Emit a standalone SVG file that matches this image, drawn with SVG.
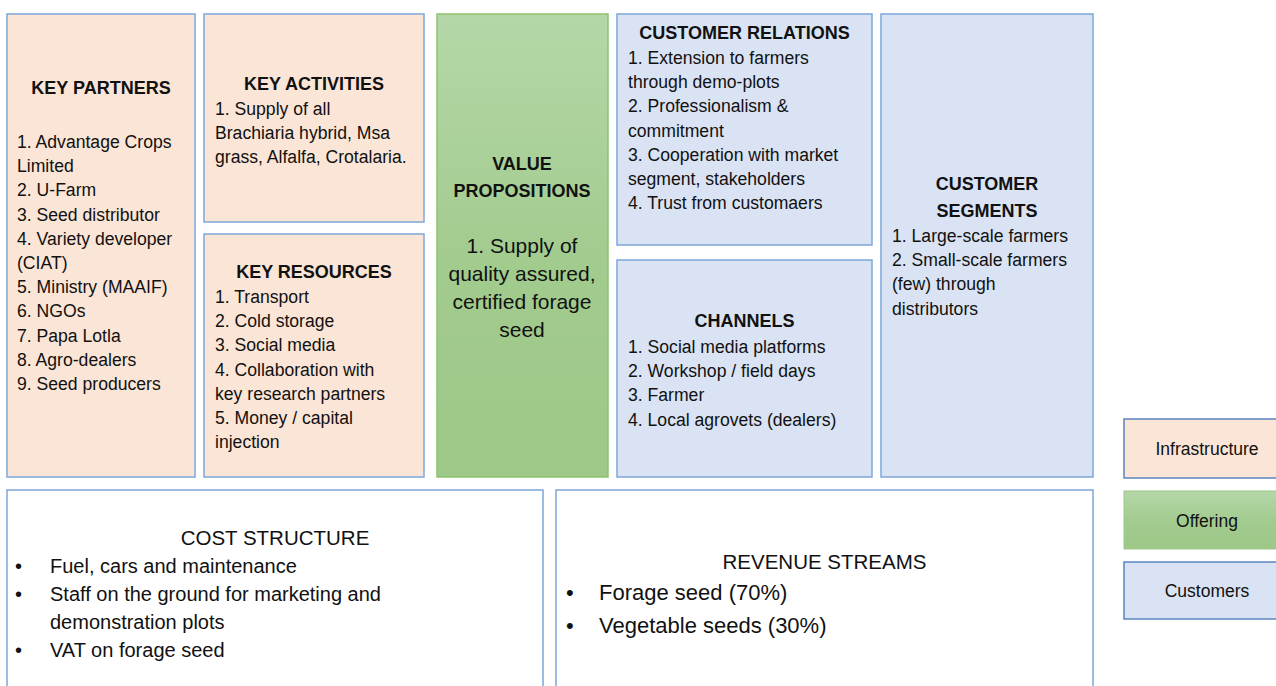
<svg xmlns="http://www.w3.org/2000/svg" width="1276" height="686" viewBox="0 0 1276 686">
<defs>
<linearGradient id="green" x1="0" y1="0" x2="0" y2="1">
<stop offset="0" stop-color="#B5D7A8"/>
<stop offset="0.55" stop-color="#A2CB8E"/>
<stop offset="1" stop-color="#9DC887"/>
</linearGradient>
<style>
text{font-family:"Liberation Sans",Arial,sans-serif;fill:#111;}
.infra{fill:#FBE5D6;stroke:#7EA7DA;stroke-width:1.5;}
.cust{fill:#DAE3F3;stroke:#7EA7DA;stroke-width:1.5;}
.offer{fill:url(#green);stroke:#8DC26E;stroke-width:1.5;}
.plain{fill:#FFFFFF;stroke:#7EA7DA;stroke-width:1.5;}
.h{font-size:18px;font-weight:bold;text-anchor:middle;}
.b{font-size:17.6px;}
.vp{font-size:21px;text-anchor:middle;}
.h2{font-size:20.5px;text-anchor:middle;}
.b2{font-size:20px;}
.b3{font-size:22px;}
.leg{font-size:17.5px;text-anchor:middle;}
</style>
</defs>
<rect width="1276" height="686" fill="#FFFFFF"/>

<g id="key-partners">
<rect class="infra" x="7" y="14" width="188" height="463"/>
<text class="h" x="101" y="94">KEY PARTNERS</text>
<text class="b" x="17" y="148">1. Advantage Crops</text>
<text class="b" x="17" y="172.2">Limited</text>
<text class="b" x="17" y="196.4">2. U-Farm</text>
<text class="b" x="17" y="220.6">3. Seed distributor</text>
<text class="b" x="17" y="244.8">4. Variety developer</text>
<text class="b" x="17" y="269">(CIAT)</text>
<text class="b" x="17" y="293.2">5. Ministry (MAAIF)</text>
<text class="b" x="17" y="317.4">6. NGOs</text>
<text class="b" x="17" y="341.6">7. Papa Lotla</text>
<text class="b" x="17" y="365.8">8. Agro-dealers</text>
<text class="b" x="17" y="390">9. Seed producers</text>
</g>

<g id="key-activities">
<rect class="infra" x="204" y="14" width="220" height="208"/>
<text class="h" x="314" y="90">KEY ACTIVITIES</text>
<text class="b" x="215" y="115">1. Supply of all</text>
<text class="b" x="215" y="139.2">Brachiaria hybrid, Msa</text>
<text class="b" x="215" y="163.4">grass, Alfalfa, Crotalaria.</text>
</g>

<g id="key-resources">
<rect class="infra" x="204" y="234" width="220" height="243"/>
<text class="h" x="314" y="278">KEY RESOURCES</text>
<text class="b" x="215" y="303">1. Transport</text>
<text class="b" x="215" y="327.2">2. Cold storage</text>
<text class="b" x="215" y="351.4">3. Social media</text>
<text class="b" x="215" y="375.6">4. Collaboration with</text>
<text class="b" x="215" y="399.8">key research partners</text>
<text class="b" x="215" y="424">5. Money / capital</text>
<text class="b" x="215" y="448.2">injection</text>
</g>

<g id="value-propositions">
<rect class="offer" x="437" y="14" width="171" height="463"/>
<text class="h" x="522" y="170">VALUE</text>
<text class="h" x="522" y="197">PROPOSITIONS</text>
<text class="vp" x="522" y="253">1. Supply of</text>
<text class="vp" x="522" y="281">quality assured,</text>
<text class="vp" x="522" y="309">certified forage</text>
<text class="vp" x="522" y="337">seed</text>
</g>

<g id="customer-relations">
<rect class="cust" x="617" y="14" width="255" height="231"/>
<text class="h" x="744.5" y="39">CUSTOMER RELATIONS</text>
<text class="b" x="628" y="64">1. Extension to farmers</text>
<text class="b" x="628" y="88.2">through demo-plots</text>
<text class="b" x="628" y="112.4">2. Professionalism &amp;</text>
<text class="b" x="628" y="136.6">commitment</text>
<text class="b" x="628" y="160.8">3. Cooperation with market</text>
<text class="b" x="628" y="185">segment, stakeholders</text>
<text class="b" x="628" y="209.2">4. Trust from customaers</text>
</g>

<g id="channels">
<rect class="cust" x="617" y="260" width="255" height="217"/>
<text class="h" x="744.5" y="327">CHANNELS</text>
<text class="b" x="628" y="353">1. Social media platforms</text>
<text class="b" x="628" y="377.2">2. Workshop / field days</text>
<text class="b" x="628" y="401.4">3. Farmer</text>
<text class="b" x="628" y="425.6">4. Local agrovets (dealers)</text>
</g>

<g id="customer-segments">
<rect class="cust" x="881" y="14" width="212" height="463"/>
<text class="h" x="987" y="190">CUSTOMER</text>
<text class="h" x="987" y="217">SEGMENTS</text>
<text class="b" x="892" y="242">1. Large-scale farmers</text>
<text class="b" x="892" y="266.2">2. Small-scale farmers</text>
<text class="b" x="892" y="290.4">(few) through</text>
<text class="b" x="892" y="314.6">distributors</text>
</g>

<g id="cost-structure">
<rect class="plain" x="7" y="490" width="536" height="210"/>
<text class="h2" x="275" y="545">COST STRUCTURE</text>
<text class="b2" x="15" y="573">•</text>
<text class="b2" x="50" y="573">Fuel, cars and maintenance</text>
<text class="b2" x="15" y="601">•</text>
<text class="b2" x="50" y="601">Staff on the ground for marketing and</text>
<text class="b2" x="50" y="629">demonstration plots</text>
<text class="b2" x="15" y="657">•</text>
<text class="b2" x="50" y="657">VAT on forage seed</text>
</g>

<g id="revenue-streams">
<rect class="plain" x="556" y="490" width="537" height="210"/>
<text class="h2" x="824.5" y="569">REVENUE STREAMS</text>
<text class="b3" x="566" y="600">•</text>
<text class="b3" x="599" y="600">Forage seed (70%)</text>
<text class="b3" x="566" y="633">•</text>
<text class="b3" x="599" y="633">Vegetable seeds (30%)</text>
</g>

<g id="legend-infrastructure">
<rect x="1124" y="419" width="160" height="59" fill="#FBE5D6" stroke="#5B84C0" stroke-width="1.5"/>
<text class="leg" x="1207" y="455">Infrastructure</text>
</g>
<g id="legend-offering">
<rect x="1124" y="491" width="160" height="58" fill="url(#green)" stroke="#9CC98A" stroke-width="1"/>
<text class="leg" x="1207" y="527">Offering</text>
</g>
<g id="legend-customers">
<rect x="1124" y="562" width="160" height="57" fill="#DAE3F3" stroke="#5B84C0" stroke-width="1.5"/>
<text class="leg" x="1207" y="597">Customers</text>
</g>

<g id="connectors"></g>
</svg>
